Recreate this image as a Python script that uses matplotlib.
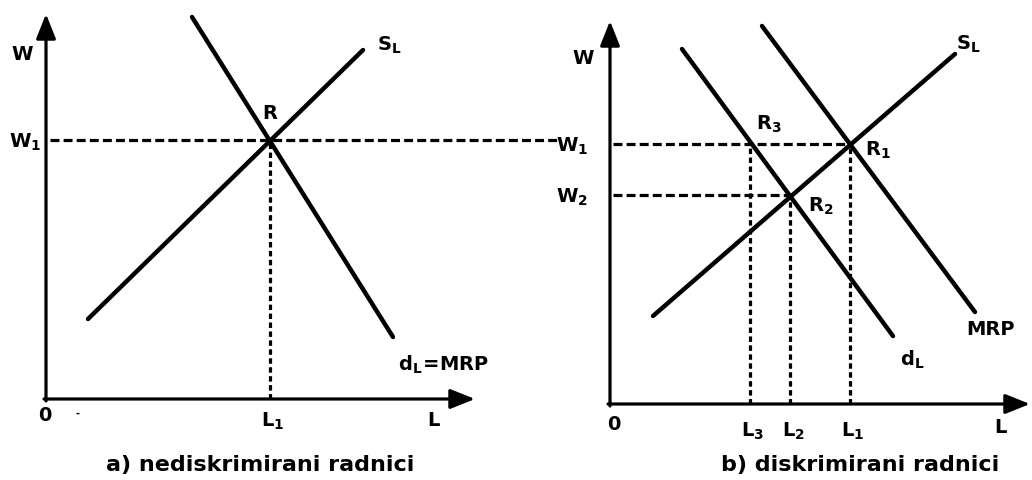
import matplotlib
matplotlib.use("Agg")
import matplotlib.pyplot as plt

# ---------------- data (panel-relative units: L right, W up) ----------------
# Panel a: non-discriminated workers
a_supply_L = [42, 317]
a_supply_W = [80, 349]
a_demand_L = [146, 347]
a_demand_W = [382, 62]
a_W1 = 259
a_L1 = 224
a_W1_line_end = 514          # dashed W1 line continues to panel b
a_axis_max = (429, 385)

# Panel b: discriminated workers
b_supply_L = [43, 345]
b_supply_W = [88, 350]
b_dL_L = [72, 283]
b_dL_W = [355, 68]
b_mrp_L = [152, 365]
b_mrp_W = [378, 92]
b_W1 = 260
b_W2 = 209
b_L1 = 240
b_L2 = 180
b_L3 = 140
b_axis_max = (420, 383)

caption_a = "a) nediskrimirani radnici"
caption_b = "b) diskrimirani radnici"

# ---------------- figure ----------------
W_PX, H_PX = 1032, 481
fig = plt.figure(figsize=(W_PX / 100, H_PX / 100), dpi=100)
fig.patch.set_facecolor("white")
plt.rcParams["mathtext.fontset"] = "dejavusans"

FONT = dict(family="DejaVu Sans", weight="bold", color="black")
LW_CURVE = 3.2
LW_AXIS = 2.3
LW_DASH = 2.3
DASH_H = (0, (2.8, 1.3))
DASH_V = (0, (1.7, 1.1))
LABEL_SIZE = 14


def make_axes(ox, oy, w, h):
    ax = fig.add_axes([ox / W_PX, (H_PX - oy) / H_PX, w / W_PX, h / H_PX])
    ax.set_xlim(0, w)
    ax.set_ylim(0, h)
    ax.axis("off")
    return ax


def draw_axes_arrows(ax, xmax, ymax):
    kw = dict(arrowstyle="-|>,head_length=0.75,head_width=0.3", lw=LW_AXIS,
              color="black", mutation_scale=20, shrinkA=0, shrinkB=0)
    ax.annotate("", xy=(0, ymax), xytext=(0, -2), arrowprops=kw,
                annotation_clip=False)
    ax.annotate("", xy=(xmax, 0), xytext=(-2, 0), arrowprops=kw,
                annotation_clip=False)


def lab(ax, x, y, s, size=LABEL_SIZE, ha="center", va="center"):
    ax.text(x, y, s, ha=ha, va=va, fontsize=size, clip_on=False, **FONT)


# ---- panel a ----
axa = make_axes(46, 400, 434, 390)
draw_axes_arrows(axa, *a_axis_max)
axa.plot(a_supply_L, a_supply_W, color="black", lw=LW_CURVE,
         solid_capstyle="round")
axa.plot(a_demand_L, a_demand_W, color="black", lw=LW_CURVE,
         solid_capstyle="round")
axa.plot([4, a_W1_line_end], [a_W1, a_W1], color="black", lw=LW_DASH,
         linestyle=DASH_H, clip_on=False)
axa.plot([a_L1, a_L1], [0, a_W1], color="black", lw=LW_DASH,
         linestyle=DASH_V)
lab(axa, -24, 345, "W")
lab(axa, -21, 258, r"$\mathbf{W_1}$")
lab(axa, a_L1, 286, "R")
lab(axa, 343, 355, r"$\mathbf{S_L}$")
lab(axa, 397, 35, r"$\mathbf{d_L\!=\!MRP}$")
lab(axa, -1, -16, "0")
lab(axa, 31, -14, "-", size=7)
lab(axa, a_L1 + 3, -21, r"$\mathbf{L_1}$")
lab(axa, 387, -21, "L")
lab(axa, 214, -65, caption_a, size=16)

# ---- panel b ----
axb = make_axes(610, 405, 422, 395)
draw_axes_arrows(axb, *b_axis_max)
for Ls, Ws in [(b_supply_L, b_supply_W), (b_dL_L, b_dL_W), (b_mrp_L, b_mrp_W)]:
    axb.plot(Ls, Ws, color="black", lw=LW_CURVE, solid_capstyle="round")
axb.plot([3, b_L1], [b_W1, b_W1], color="black", lw=LW_DASH, linestyle=DASH_H)
axb.plot([3, b_L2], [b_W2, b_W2], color="black", lw=LW_DASH, linestyle=DASH_H)
for Lv, Wv in [(b_L3, b_W1), (b_L2, b_W2), (b_L1, b_W1)]:
    axb.plot([Lv, Lv], [0, Wv], color="black", lw=LW_DASH, linestyle=DASH_V)
lab(axb, -27, 347, "W")
lab(axb, -38, 259, r"$\mathbf{W_1}$")
lab(axb, -38, 208, r"$\mathbf{W_2}$")
lab(axb, b_L3 + 19, 281, r"$\mathbf{R_3}$")
lab(axb, b_L1 + 28, 255, r"$\mathbf{R_1}$")
lab(axb, b_L2 + 31, 199, r"$\mathbf{R_2}$")
lab(axb, 358, 361, r"$\mathbf{S_L}$")
lab(axb, 302, 45, r"$\mathbf{d_L}$")
lab(axb, 381, 75, "MRP")
lab(axb, 4, -20, "0")
lab(axb, b_L3 + 3, -26, r"$\mathbf{L_3}$")
lab(axb, b_L2 + 3, -26, r"$\mathbf{L_2}$")
lab(axb, b_L1 + 3, -26, r"$\mathbf{L_1}$")
lab(axb, 390, -23, "L")
lab(axb, 250, -60, caption_b, size=16)

fig.savefig("out.png", dpi=100, facecolor="white")
